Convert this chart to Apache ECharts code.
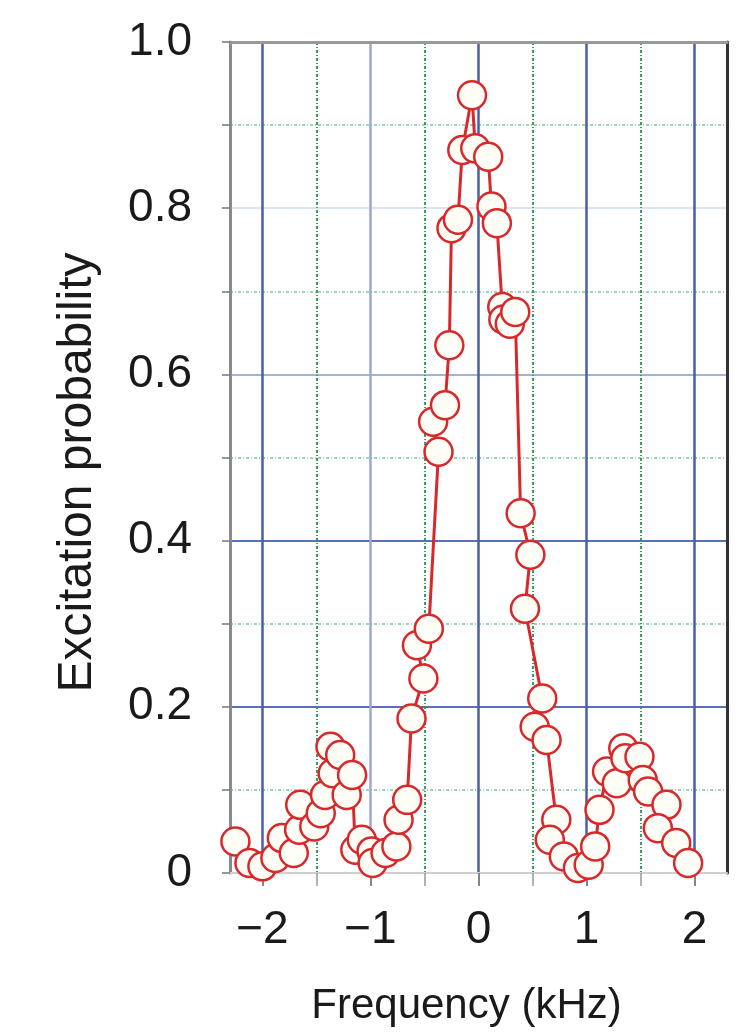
<!DOCTYPE html>
<html>
<head>
<meta charset="utf-8">
<script src="https://cdn.jsdelivr.net/npm/echarts@6/dist/echarts.min.js"></script>
<style>
  html, body { margin: 0; padding: 0; background: #fff; }
  #chart { width: 747px; height: 1034px; }
</style>
</head>
<body>
<div id="chart"></div>
<script>
// frequency (kHz), in the order the curve goes through them
var freq = [-2.25, -2.12, -2.00, -1.88, -1.82, -1.71, -1.66, -1.65, -1.52, -1.46,
            -1.42, -1.37, -1.35, -1.28, -1.22, -1.17, -1.14, -1.08, -0.99, -0.98,
            -0.86, -0.76, -0.74, -0.66, -0.62, -0.51, -0.57, -0.46, -0.37, -0.42,
            -0.31, -0.27, -0.25, -0.19, -0.15, -0.06, -0.03, 0.09, 0.12, 0.17,
            0.22, 0.23, 0.29, 0.34, 0.39, 0.48, 0.43, 0.59, 0.52, 0.63,
            0.72, 0.66, 0.79, 0.92, 1.02, 1.08, 1.12, 1.19, 1.28, 1.34,
            1.36, 1.49, 1.52, 1.57, 1.74, 1.66, 1.83, 1.94];
// excitation probability
var prob = [0.038, 0.012, 0.008, 0.018, 0.042, 0.024, 0.052, 0.082, 0.056, 0.072,
            0.094, 0.152, 0.120, 0.142, 0.094, 0.118, 0.028, 0.040, 0.026, 0.012,
            0.024, 0.032, 0.064, 0.088, 0.186, 0.234, 0.274, 0.294, 0.507, 0.543,
            0.563, 0.635, 0.776, 0.786, 0.870, 0.936, 0.872, 0.862, 0.802, 0.782,
            0.681, 0.666, 0.661, 0.675, 0.433, 0.383, 0.318, 0.210, 0.176, 0.160,
            0.064, 0.040, 0.020, 0.006, 0.010, 0.032, 0.076, 0.122, 0.108, 0.150,
            0.138, 0.140, 0.112, 0.098, 0.082, 0.054, 0.036, 0.012];

var majorX = [-2, -1, 0, 1, 2];
var halfX = [-2, -1.5, -1, -0.5, 0, 0.5, 1, 1.5, 2];
var minorX = [-1.5, -0.5, 0.5, 1.5];

var pts = [];
for (var i = 0; i < freq.length; i++) {
    pts.push([freq[i], prob[i]]);
}

var font = "'Liberation Sans', Arial, sans-serif";

var option = {
    animation: false,
    backgroundColor: '#fff',
    grid: { left: 230, right: 20, top: 42, bottom: 161, containLabel: false },
    xAxis: [{
        type: 'value', min: -2.3, max: 2.3, position: 'bottom',
        name: 'Frequency (kHz)', nameLocation: 'middle', nameGap: 112,
        nameTextStyle: { fontFamily: font, fontSize: 42, color: '#1a1a1a', padding: [0, 24, 0, 0] },
        axisLine: { show: true, onZero: false, lineStyle: { color: '#cfcfcf', width: 2 } },
        axisTick: { show: true, customValues: majorX, length: 13, lineStyle: { color: '#444', width: 2 } },
        axisLabel: {
            customValues: majorX, margin: 34,
            fontFamily: font, fontSize: 46, color: '#1a1a1a',
            formatter: function (v) { return v < 0 ? '\u2212' + Math.abs(v) : String(v); }
        },
        splitLine: { show: true, lineStyle: { color: ['#4a5fa8', '#9aa8d4', '#4a5fa8', '#4a5fa8', '#4a5fa8'], width: 2.5 } }
    }, {
        type: 'value', min: -2.3, max: 2.3, position: 'bottom',
        axisLine: { show: false, onZero: false },
        axisTick: { show: true, customValues: halfX, length: 13, lineStyle: { color: '#999', width: 1.5 } },
        axisLabel: { show: false },
        splitLine: { show: false }
    }, {
        type: 'value', min: -2.3, max: 2.3, position: 'bottom',
        axisLine: { show: false, onZero: false },
        axisTick: { show: false, customValues: minorX },
        axisLabel: { show: false },
        splitLine: { show: true, lineStyle: { color: '#1f9a52', width: 1.8, type: [3, 2, 1, 2] } }
    }, {
        type: 'value', min: -2.3, max: 2.3, position: 'top',
        axisLine: { show: true, onZero: false, lineStyle: { color: '#999', width: 3 } },
        axisTick: { show: false }, axisLabel: { show: false }, splitLine: { show: false }
    }],
    yAxis: [{
        type: 'value', min: 0, max: 1, interval: 0.2, position: 'left',
        name: 'Excitation probability', nameLocation: 'middle', nameGap: 128,
        nameTextStyle: { fontFamily: font, fontSize: 48, color: '#1a1a1a', padding: [0, 30, 0, 0] },
        axisLine: { show: true, onZero: false, lineStyle: { color: '#8a8a8a', width: 3 } },
        axisTick: { show: true, length: 8, lineStyle: { color: '#777', width: 1.5 } },
        minorTick: { show: true, splitNumber: 2, length: 8, lineStyle: { color: '#777', width: 1.5 } },
        axisLabel: {
            margin: 38, fontFamily: font, fontSize: 46, color: '#1a1a1a',
            formatter: function (v) { return v === 0 ? '0' : v.toFixed(1); }
        },
        splitLine: { show: true, lineStyle: { color: ['#cccccc', '#5a70b5', '#5a70b5', '#a3b2d6', '#dbe2f0', '#999999'], width: 2 } },
        minorSplitLine: { show: true, lineStyle: { color: '#7cc89a', width: 1.5, type: [3, 2, 1, 2] } }
    }, {
        type: 'value', min: 0, max: 1, position: 'right',
        axisLine: { show: true, onZero: false, lineStyle: { color: '#333', width: 3 } },
        axisTick: { show: false }, axisLabel: { show: false }, splitLine: { show: false }
    }],
    series: [{
        type: 'line',
        xAxisIndex: 0, yAxisIndex: 0,
        data: pts,
        symbol: 'circle',
        symbolSize: 28,
        z: 5,
        lineStyle: { color: '#d8282b', width: 3 },
        itemStyle: { color: '#fffef6', borderColor: '#d8282b', borderWidth: 2.5 }
    }]
};

var chart = echarts.init(document.getElementById('chart'));
chart.setOption(option);
</script>
</body>
</html>
